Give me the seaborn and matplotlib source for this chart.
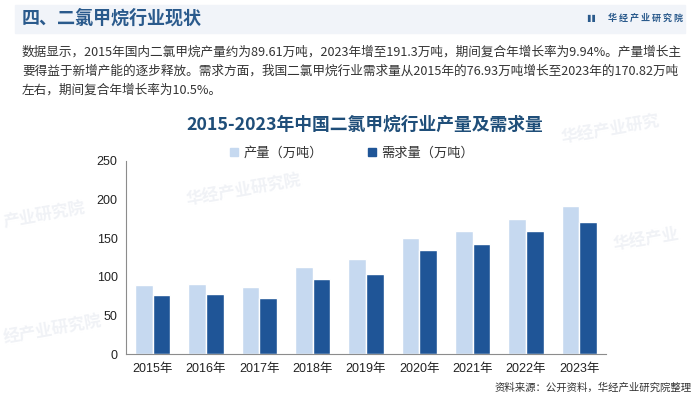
import matplotlib
matplotlib.use('Agg')
import matplotlib.pyplot as plt
import pandas as pd
import seaborn as sns

# data
years = ['2015年', '2016年', '2017年', '2018年', '2019年', '2020年', '2021年', '2022年', '2023年']
output = [89.61, 90.8, 87.0, 112.8, 123.1, 150.3, 158.9, 174.8, 191.3]
demand = [76.93, 78.3, 73.2, 97.3, 103.7, 134.8, 142.5, 159.3, 170.82]
series_names = ['产量（万吨）', '需求量（万吨）']

df = pd.DataFrame({
    'year': years * 2,
    'value': output + demand,
    'series': [series_names[0]] * len(years) + [series_names[1]] * len(years),
})

sns.set_style('white')
plt.rcParams['font.family'] = ['Liberation Sans', 'Noto Sans CJK SC', 'DejaVu Sans']
cjk = ['Noto Sans CJK SC', 'DejaVu Sans']

light = '#c6d9f0'
dark = '#1f5597'
navy = '#1f4e79'

fig = plt.figure(figsize=(7, 3.97), dpi=100)
fig.patch.set_facecolor('white')

# header band
fig.patches.append(plt.Rectangle((15 / 700, 1 - 33 / 397), 670 / 700, 28 / 397,
                                 transform=fig.transFigure, color='#f1f4f9', zorder=0))
fig.text(22 / 700, 1 - 18 / 397, '四、二氯甲烷行业现状', family=cjk, fontsize=13,
         fontweight='bold', color='#2a5a8c', va='center', ha='left')
fig.text(683 / 700, 1 - 18 / 397, '华 经 产 业 研 究 院', family=cjk, fontsize=6.5,
         fontweight='bold', color='#2a5a8c', va='center', ha='right')
fig.text(598 / 700, 1 - 18 / 397, '▌▌', family=['DejaVu Sans'], fontsize=5,
         color='#2a5a8c', va='center', ha='right')

para = ['数据显示，2015年国内二氯甲烷产量约为89.61万吨，2023年增至191.3万吨，期间复合年增长率为9.94%。产量增长主',
        '要得益于新增产能的逐步释放。需求方面，我国二氯甲烷行业需求量从2015年的76.93万吨增长至2023年的170.82万吨',
        '左右，期间复合年增长率为10.5%。']
for i, line in enumerate(para):
    fig.text(22 / 700, 1 - (52 + i * 19) / 397, line, family=cjk, fontsize=9.1,
             color='#333333', va='center', ha='left')

# faint watermarks
for x, y, s in [(185, 190, '华经产业研究院'), (2, 215, '产业研究院'), (612, 240, '华经产业'),
                (2, 330, '经产业研究院'), (560, 130, '华经产业研究')]:
    fig.text(x / 700, 1 - y / 397, s, family=cjk, fontsize=12, fontweight='bold',
             color='#f0f2f6', rotation=10, va='center', ha='left', zorder=0)

ax = fig.add_axes([126 / 700, 1 - 354.3 / 397, 480 / 700, 193.5 / 397])
ax.set_facecolor('none')
sns.barplot(data=df, x='year', y='value', hue='series', palette=[light, dark],
            width=0.66, saturation=1, ax=ax, legend=False)

ax.set_ylim(0, 250)
ax.set_xlim(-0.5, len(years) - 0.5)
ax.set_yticks([0, 50, 100, 150, 200, 250])
ax.set_xlabel('')
ax.set_ylabel('')
for side in ['top', 'right']:
    ax.spines[side].set_visible(False)
for side in ['left', 'bottom']:
    ax.spines[side].set_color('#8c8c8c')
    ax.spines[side].set_linewidth(0.8)
ax.tick_params(axis='y', length=3, color='#8c8c8c', labelsize=9, labelcolor='#222222', pad=3)
ax.tick_params(axis='x', length=0, labelsize=9, labelcolor='#222222', pad=6)
ax.set_xticks([i - 0.5 for i in range(len(years) + 1)], minor=True)
ax.tick_params(axis='x', which='minor', length=3, color='#8c8c8c')
ax.grid(False)

# title and legend
fig.text(365 / 700, 1 - 125 / 397, '2015-2023年中国二氯甲烷行业产量及需求量', family=cjk,
         fontsize=12.8, fontweight='bold', color=navy, ha='center', va='center')
handles = [plt.Rectangle((0, 0), 1, 1, color=light), plt.Rectangle((0, 0), 1, 1, color=dark)]
fig.legend(handles, series_names, loc='center', bbox_to_anchor=(352 / 700, 1 - 153 / 397),
           ncol=2, frameon=False, prop={'family': cjk, 'size': 9.5}, handlelength=0.6,
           handleheight=0.6, handletextpad=0.4, columnspacing=3.4, labelcolor='#333333')

fig.text(692 / 700, 1 - 388 / 397, '资料来源：公开资料，华经产业研究院整理', family=cjk,
         fontsize=7.5, color='#333333', ha='right', va='center')

fig.savefig('out.png', dpi=100)
